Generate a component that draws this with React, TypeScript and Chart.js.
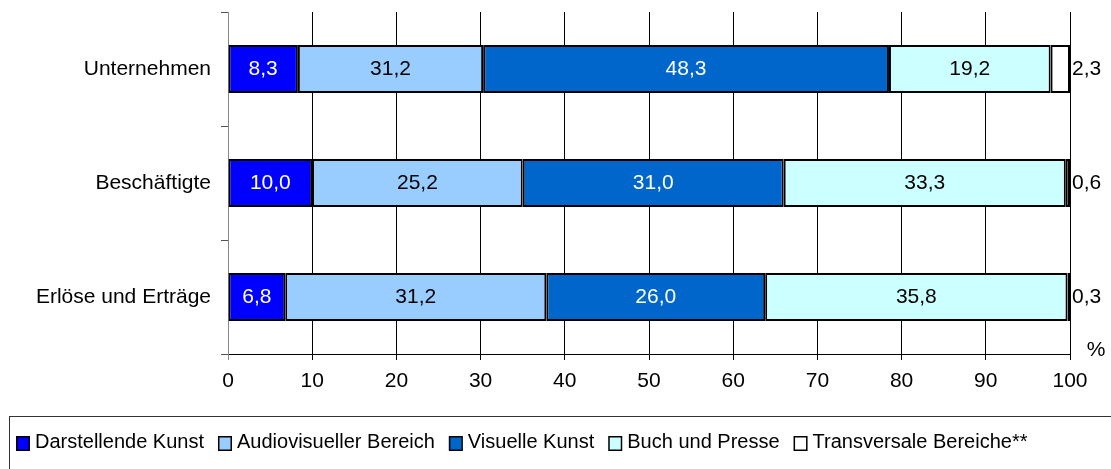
import React, { useEffect, useRef } from "react";
import { Chart, registerables } from "chart.js";

Chart.register(...registerables);

const categories = ["Unternehmen", "Beschäftigte", "Erlöse und Erträge"];
const seriesNames = [
  "Darstellende Kunst",
  "Audiovisueller Bereich",
  "Visuelle Kunst",
  "Buch und Presse",
  "Transversale Bereiche**",
];
// segment lengths as drawn in the picture (percent)
const darstellende = [8.3, 10.0, 6.8];
const audiovisuell = [22.0, 25.0, 31.0];
const visuell = [48.2, 31.0, 26.0];
const buchPresse = [19.2, 33.5, 35.9];
const transversal = [2.3, 0.5, 0.3];
// printed value labels
const darstellendeLabels = ["8,3", "10,0", "6,8"];
const audiovisuellLabels = ["31,2", "25,2", "31,2"];
const visuellLabels = ["48,3", "31,0", "26,0"];
const buchPresseLabels = ["19,2", "33,3", "35,8"];
const transversalLabels = ["2,3", "0,6", "0,3"];
const xTicks = [0, 10, 20, 30, 40, 50, 60, 70, 80, 90, 100];

const seriesValues = [darstellende, audiovisuell, visuell, buchPresse, transversal];
const seriesLabels = [
  darstellendeLabels,
  audiovisuellLabels,
  visuellLabels,
  buchPresseLabels,
  transversalLabels,
];
const fillColors = ["#0000FF", "#99CCFF", "#0066CC", "#CCFFFF", "#FFFFFF"];
const labelColors = ["#FFFFFF", "#000000", "#FFFFFF", "#000000", "#000000"];

const FONT = "'Liberation Sans', Arial, sans-serif";

const labelsPlugin = {
  id: "segLabels",
  afterDatasetsDraw(chart: any) {
    const ctx = chart.ctx;
    ctx.save();
    ctx.font = `21px ${FONT}`;
    ctx.textBaseline = "middle";
    chart.data.datasets.forEach((ds: any, di: number) => {
      const meta = chart.getDatasetMeta(di);
      meta.data.forEach((el: any, i: number) => {
        const txt = seriesLabels[di][i];
        if (di === seriesValues.length - 1) {
          ctx.textAlign = "left";
          ctx.fillStyle = "#000";
          ctx.fillText(txt, Math.max(el.x, el.base) + 2, el.y);
        } else {
          ctx.textAlign = "center";
          ctx.fillStyle = labelColors[di];
          ctx.fillText(txt, (el.x + el.base) / 2, el.y);
        }
      });
    });
    const xs = chart.scales.x;
    ctx.fillStyle = "#000";
    ctx.textAlign = "center";
    ctx.fillText("%", xs.right + 26, chart.chartArea.bottom - 4);
    ctx.restore();
  },
};

const legendPlugin = {
  id: "boxLegend",
  afterDraw(chart: any) {
    const ctx = chart.ctx;
    ctx.save();
    ctx.strokeStyle = "#333";
    ctx.lineWidth = 1;
    ctx.strokeRect(9.5, 416.5, 1300, 200);
    ctx.font = `20px ${FONT}`;
    ctx.textBaseline = "alphabetic";
    ctx.textAlign = "left";
    let x = 16;
    chart.data.datasets.forEach((ds: any, di: number) => {
      ctx.fillStyle = fillColors[di];
      ctx.fillRect(x, 436, 13, 14);
      ctx.strokeStyle = "#000";
      ctx.lineWidth = 1.5;
      ctx.strokeRect(x + 0.75, 436.75, 12.5, 13.5);
      ctx.fillStyle = "#000";
      ctx.fillText(ds.label, x + 19, 448);
      x += 19 + ctx.measureText(ds.label).width + 14;
    });
    ctx.restore();
  },
};

export default function App() {
  const ref = useRef<HTMLCanvasElement | null>(null);
  useEffect(() => {
    document.body.style.margin = "0";
    if (!ref.current) return;
    const chart = new Chart(ref.current, {
      type: "bar",
      data: {
        labels: categories,
        datasets: seriesNames.map((name, i) => ({
          label: name,
          data: seriesValues[i],
          backgroundColor: fillColors[i],
          borderColor: "#000000",
          borderWidth: 2,
          borderSkipped: false,
          barPercentage: 0.42,
          categoryPercentage: 1,
        })),
      },
      options: {
        indexAxis: "y",
        responsive: false,
        animation: false,
        devicePixelRatio: 1,
        layout: { padding: { left: 0, right: 41, top: 12, bottom: 0 } },
        plugins: {
          legend: { display: false },
          tooltip: { enabled: false },
        },
        scales: {
          x: {
            stacked: true,
            min: 0,
            max: 100,
            afterBuildTicks: (s: any) => {
              s.ticks = xTicks.map((v) => ({ value: v }));
            },
            afterFit: (s: any) => {
              s.height = 115;
              s.paddingLeft = 0;
              s.paddingRight = 0;
            },
            ticks: {
              color: "#000",
              font: { family: FONT, size: 21 },
              padding: 9,
              maxRotation: 0,
              callback: (v: any) => String(v),
            },
            grid: {
              color: (c: any) => (c.index === 0 ? "#888888" : "#000000"),
              lineWidth: 1,
              tickLength: 6,
              drawTicks: true,
            },
            border: { color: "#000000", width: 1 },
          },
          y: {
            stacked: true,
            afterFit: (s: any) => {
              s.width = 228;
              s.paddingTop = 0;
              s.paddingBottom = 0;
            },
            ticks: {
              color: "#000",
              font: { family: FONT, size: 21 },
              padding: 10,
            },
            grid: {
              offset: true,
              drawOnChartArea: false,
              tickLength: 7,
              color: "#555555",
            },
            border: { color: "#888888", width: 1 },
          },
        },
      },
      plugins: [labelsPlugin, legendPlugin],
    });
    return () => chart.destroy();
  }, []);
  return (
    <div style={{ width: 1111, height: 469, background: "#fff" }}>
      <canvas ref={ref} width={1111} height={469} />
    </div>
  );
}
